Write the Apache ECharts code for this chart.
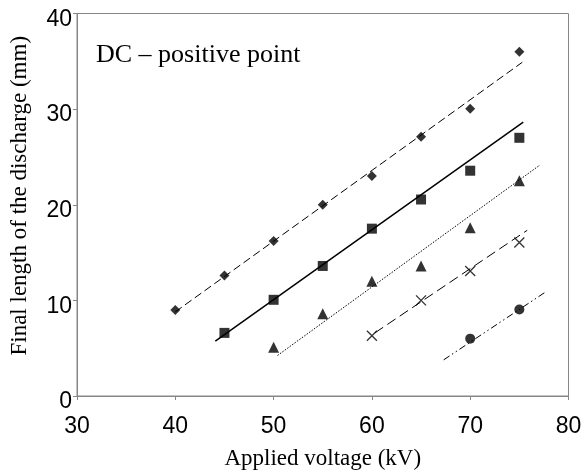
<!DOCTYPE html>
<html>
<head>
<meta charset="utf-8">
<script src="https://cdn.jsdelivr.net/npm/echarts@6/dist/echarts.min.js"></script>
<style>
  html, body { margin: 0; padding: 0; background: #fff; }
  #chart { width: 587px; height: 475px; }
</style>
</head>
<body>
<div id="chart"></div>
<script>
// applied voltage (kV)
var voltsDiamond = [40, 45, 50, 55, 60, 65, 70, 75];
var lenDiamond   = [9.0, 12.6, 16.2, 20.0, 23.0, 27.1, 30.05, 36.0];
var voltsSquare  = [45, 50, 55, 60, 65, 70, 75];
var lenSquare    = [6.6, 10.06, 13.6, 17.5, 20.55, 23.56, 27.0];
var voltsTri     = [50, 55, 60, 65, 70, 75];
var lenTri       = [5.1, 8.6, 12.0, 13.6, 17.6, 22.5];
var voltsCross   = [60, 65, 70, 75];
var lenCross     = [6.3, 10.0, 13.07, 16.05];
var voltsCircle  = [70, 75];
var lenCircle    = [6.0, 9.05];

// trend line end points [kV, mm]
var fitDiamond = [[40, 8.8], [75.3, 34.9]];
var fitSquare  = [[44.07, 5.73], [75.4, 28.65]];
var fitTri     = [[50.4, 4.24], [77.1, 24.16]];
var fitCross   = [[60.3, 6.6], [75.8, 17.33]];
var fitCircle  = [[67.3, 3.78], [77.7, 10.9]];

var xTicks = [30, 40, 50, 60, 70, 80];
var yTicks = [0, 10, 20, 30, 40];

var axisGrey = '#868686';
var serif = '"Liberation Serif", "DejaVu Serif", serif';
var sans = '"Liberation Sans", Arial, sans-serif';

function pairs(xs, ys) {
    return xs.map(function (x, i) { return [x, ys[i]]; });
}

function trend(data, type, width) {
    return {
        type: 'line',
        data: data,
        showSymbol: false,
        silent: true,
        z: 1,
        lineStyle: { color: '#000', width: width, type: type }
    };
}

function points(data, symbol, size, extra) {
    var s = {
        type: 'scatter',
        data: data,
        symbol: symbol,
        symbolSize: size,
        z: 3,
        itemStyle: { color: '#000' }
    };
    if (extra) s.itemStyle = extra;
    return s;
}

var myChart = echarts.init(document.getElementById('chart'));
var option = {
    animation: false,
    backgroundColor: '#fff',
    title: {
        text: 'DC \u2013 positive point',
        left: 91,
        top: 37,
        textStyle: { fontFamily: serif, fontSize: 26, fontWeight: 'normal', color: '#000' }
    },
    grid: {
        left: 72,
        right: 18.5,
        top: 13.5,
        bottom: 76.5,
        show: true,
        borderColor: axisGrey,
        borderWidth: 1
    },
    xAxis: {
        type: 'value',
        min: xTicks[0],
        max: xTicks[xTicks.length - 1],
        interval: 10,
        name: 'Applied voltage (kV)',
        nameLocation: 'middle',
        nameGap: 51,
        nameTextStyle: { fontFamily: serif, fontSize: 23, color: '#000' },
        axisLine: { show: true, lineStyle: { color: axisGrey, width: 1 } },
        axisTick: { show: true, inside: false, length: 4, lineStyle: { color: axisGrey } },
        axisLabel: { fontFamily: sans, fontSize: 23, color: '#000', margin: 19 },
        splitLine: { show: false }
    },
    yAxis: {
        type: 'value',
        min: yTicks[0],
        max: yTicks[yTicks.length - 1],
        interval: 10,
        name: 'Final length of the discharge (mm)',
        nameLocation: 'middle',
        nameGap: 46,
        nameTextStyle: { fontFamily: serif, fontSize: 23, color: '#000', padding: [0, 0, 0, 18] },
        axisLine: { show: true, lineStyle: { color: axisGrey, width: 1 } },
        axisTick: { show: true, inside: false, length: 4, lineStyle: { color: axisGrey } },
        axisLabel: { fontFamily: sans, fontSize: 23, color: '#000', margin: 5,
            verticalAlign: 'top', lineHeight: 12 },
        splitLine: { show: false }
    },
    series: [
        trend(fitDiamond, [8, 4], 1),
        trend(fitSquare, 'solid', 1.5),
        trend(fitTri, [1.5, 1.5], 1),
        trend(fitCross, [10, 5], 1),
        trend(fitCircle, [7, 3, 1.5, 3, 1.5, 3], 1),
        points(pairs(voltsDiamond, lenDiamond), 'diamond', 10),
        points(pairs(voltsSquare, lenSquare), 'rect', 10),
        points(pairs(voltsTri, lenTri), 'triangle', 11),
        points(pairs(voltsCross, lenCross), 'path://M0,0L10,10M10,0L0,10', 10,
            { color: 'transparent', borderColor: '#000', borderWidth: 1.3 }),
        points(pairs(voltsCircle, lenCircle), 'circle', 10)
    ]
};
myChart.setOption(option);
</script>
</body>
</html>
